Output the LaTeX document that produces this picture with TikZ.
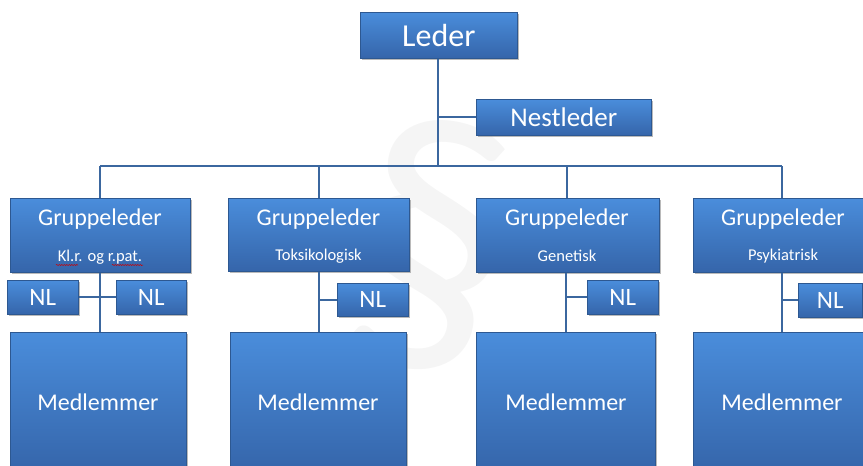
\documentclass[tikz,border=0pt]{standalone}
\usepackage{fontspec}
\setmainfont{Carlito}
\usetikzlibrary{shadows,decorations.pathmorphing}
\definecolor{topc}{HTML}{4A8DDB}
\definecolor{botc}{HTML}{3565AA}
\definecolor{edgec}{HTML}{2D5891}
\definecolor{linec}{HTML}{3B679F}
\tikzset{
  box/.style={rectangle, draw=edgec, line width=0.6pt, top color=topc, bottom color=botc,
    inner sep=0pt, anchor=north west,
    general shadow={fill=black!45, shadow xshift=1.2pt, shadow yshift=-1.6pt, opacity=0.6}},
  lbl/.style={text=white, inner sep=0pt},
  conn/.style={draw=linec, line width=2.2pt},
  big/.style={font=\fontsize{32}{34}\selectfont},
  mid/.style={font=\fontsize{27}{29}\selectfont},
  grp/.style={font=\fontsize{24}{26}\selectfont},
  sub/.style={font=\fontsize{16.5}{18}\selectfont},
  nl/.style={font=\fontsize{25}{27}\selectfont},
}
\begin{document}
\begin{tikzpicture}[x=1pt,y=-1pt]
\useasboundingbox (0,0) rectangle (863,466);
\clip (0,0) rectangle (863,466);
% watermark
\node[text=black!4, font=\fontsize{340}{340}\selectfont, rotate=-10] (wm) at (428,245) {\S};
% nodes
\node[box, minimum width=157pt, minimum height=46pt] (leder) at (360,12) {};
\node[lbl, big] (lederT) at (leder.center) {Leder};
\node[box, minimum width=175pt, minimum height=36pt] (nest) at (476,99) {};
\node[lbl, mid] (nestT) at (nest.center) {Nestleder};
% bus coordinates
\coordinate (busL) at (100,166);
\coordinate (bus2) at (319,166);
\coordinate (bus3) at (567,166);
\coordinate (busR) at (782,166);
\coordinate (busC) at (438,166);
\coordinate (nj) at (438,117);
% connectors top
\draw[conn] (leder.south -| busC) -- (busC);
\draw[conn] (nj) -- (nj -| nest.west);
\draw[conn] (busL) -- (busR);
% group 1
\node[box, minimum width=180pt, minimum height=74pt] (g1) at (10,198) {};
\node[lbl, grp] (g1T) at (100,219) {Gruppeleder};
\node[lbl, sub] (g1S) at (100,257) {Kl.r. og r.pat.};
\node[box, minimum width=71pt, minimum height=34pt] (nl1a) at (7,280) {};
\node[lbl, nl] (nl1aT) at (nl1a.center) {NL};
\node[box, minimum width=70pt, minimum height=34pt] (nl1b) at (116,280) {};
\node[lbl, nl] (nl1bT) at (nl1b.center) {NL};
\node[box, minimum width=176pt, minimum height=140pt] (m1) at (10,332) {};
\node[lbl, grp] (m1T) at (98,402) {Medlemmer};
% group 2
\node[box, minimum width=181pt, minimum height=73pt] (g2) at (228,198) {};
\node[lbl, grp] (g2T) at (318.5,219) {Gruppeleder};
\node[lbl, sub] (g2S) at (318.5,256) {Toksikologisk};
\node[box, minimum width=71pt, minimum height=33pt] (nl2) at (337,283) {};
\node[lbl, nl] (nl2T) at (nl2.center) {NL};
\node[box, minimum width=176pt, minimum height=140pt] (m2) at (230,332) {};
\node[lbl, grp] (m2T) at (318,402) {Medlemmer};
% group 3
\node[box, minimum width=183pt, minimum height=74pt] (g3) at (476,198) {};
\node[lbl, grp] (g3T) at (567,219) {Gruppeleder};
\node[lbl, sub] (g3S) at (567,256) {Genetisk};
\node[box, minimum width=71pt, minimum height=34pt] (nl3) at (587,280) {};
\node[lbl, nl] (nl3T) at (nl3.center) {NL};
\node[box, minimum width=179pt, minimum height=140pt] (m3) at (476,332) {};
\node[lbl, grp] (m3T) at (566,402) {Medlemmer};
% group 4
\node[box, minimum width=180pt, minimum height=74pt] (g4) at (693,198) {};
\node[lbl, grp] (g4T) at (783,219) {Gruppeleder};
\node[lbl, sub] (g4S) at (783,256) {Psykiatrisk};
\node[box, minimum width=64pt, minimum height=34pt] (nl4) at (798,283) {};
\node[lbl, nl] (nl4T) at (nl4.center) {NL};
\node[box, minimum width=178pt, minimum height=140pt] (m4) at (693,332) {};
\node[lbl, grp] (m4T) at (782,402) {Medlemmer};
% connectors
\draw[conn] (busL) -- (busL |- g1.north);
\draw[conn] (bus2) -- (bus2 |- g2.north);
\draw[conn] (bus3) -- (bus3 |- g3.north);
\draw[conn] (busR) -- (busR |- g4.north);
\draw[conn] (g1.south -| busL) -- (m1.north -| busL);
\draw[conn] (nl1a.east) -- (nl1b.west);
\draw[conn] (g2.south -| bus2) -- (m2.north -| bus2);
\draw[conn] (nl2.west -| bus2) -- (nl2.west);
\draw[conn] ([xshift=-1pt]g3.south -| bus3) -- ([xshift=-1pt]m3.north -| bus3);
\draw[conn] ([xshift=-1pt]nl3.west -| bus3) -- (nl3.west);
\draw[conn] (g4.south -| busR) -- (m4.north -| busR);
\draw[conn] (nl4.west -| busR) -- (nl4.west);
% spell-check marks
\draw[red!80!black, line width=0.5pt, decorate, decoration={snake, amplitude=0.6pt, segment length=2.5pt}]
  ([xshift=-44pt,yshift=-8pt]g1S.center) -- ([xshift=-22pt,yshift=-8pt]g1S.center);
\draw[red!80!black, line width=0.5pt, decorate, decoration={snake, amplitude=0.6pt, segment length=2.5pt}]
  ([xshift=12pt,yshift=-8pt]g1S.center) -- ([xshift=43pt,yshift=-8pt]g1S.center);
\end{tikzpicture}
\end{document}
